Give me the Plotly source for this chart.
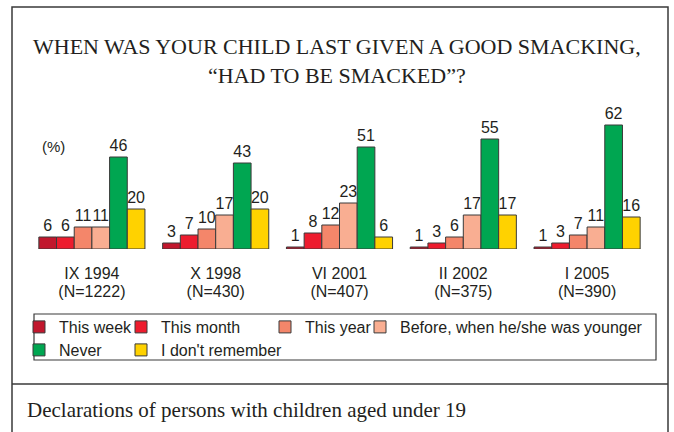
import plotly.graph_objects as go

# Survey waves and sample sizes
periods = ["IX 1994", "X 1998", "VI 2001", "II 2002", "I 2005"]
sample_sizes = ["(N=1222)", "(N=430)", "(N=407)", "(N=375)", "(N=390)"]

# Answer categories (percent of respondents)
series_names = [
    "This week",
    "This month",
    "This year",
    "Before, when he/she was younger",
    "Never",
    "I don't remember",
]
series_colors = ["#C1172D", "#ED1C2E", "#F4866A", "#F9AE92", "#00A651", "#FFD200"]

this_week = [6, 3, 1, 1, 1]
this_month = [6, 7, 8, 3, 3]
this_year = [11, 10, 12, 6, 7]
before_younger = [11, 17, 23, 17, 11]
never = [46, 43, 51, 55, 62]
dont_remember = [20, 20, 6, 17, 16]

series_values = [this_week, this_month, this_year, before_younger, never, dont_remember]

# Figure geometry (pixels)
W, H = 674, 432
ML, MR, MT, MB = 30, 25, 109, 183
PW, PH = W - ML - MR, H - MT - MB


def fx(px):
    return (px - ML) / PW


def fy(py):
    return (H - MB - py) / PH


TEXT = "#231F20"
SANS = "Liberation Sans, Arial, sans-serif"
SERIF = "Liberation Serif, Times New Roman, serif"
EDGE = "#3A3A3A"

# one legend per entry so each key sits in its own column of the key box
legend_ids = ["legend", "legend2", "legend3", "legend4", "legend5", "legend6"]
legend_spots = [(19, 327), (121, 327), (265, 327), (360, 327), (19, 350), (121, 350)]

fig = go.Figure()
for name, color, vals, lg in zip(series_names, series_colors, series_values, legend_ids):
    fig.add_trace(
        go.Bar(
            x=periods,
            y=vals,
            name=name,
            marker=dict(color=color, line=dict(color=EDGE, width=1)),
            text=[str(v) for v in vals],
            textposition="outside",
            textfont=dict(family=SANS, size=16, color=TEXT),
            constraintext="none",
            cliponaxis=False,
            legend=lg,
        )
    )

# sample sizes carried on a second category axis, giving the second label row
fig.add_trace(
    go.Scatter(
        x=sample_sizes,
        y=[0] * len(sample_sizes),
        mode="none",
        xaxis="x2",
        yaxis="y",
        showlegend=False,
        hoverinfo="skip",
    )
)

legend_layout = {}
for lg, (lx, ly) in zip(legend_ids, legend_spots):
    legend_layout[lg] = dict(
        x=fx(lx),
        y=fy(ly),
        xanchor="left",
        yanchor="middle",
        orientation="h",
        font=dict(family=SANS, size=16, color=TEXT),
        bgcolor="rgba(0,0,0,0)",
        borderwidth=0,
    )

fig.update_layout(
    width=W,
    height=H,
    margin=dict(l=ML, r=MR, t=MT, b=MB, autoexpand=False),
    paper_bgcolor="white",
    plot_bgcolor="white",
    barmode="group",
    bargap=0.143,
    bargroupgap=0,
    showlegend=True,
    xaxis=dict(
        range=[-0.5, 4.5],
        showgrid=False,
        zeroline=False,
        showline=False,
        ticks="",
        ticklabelstandoff=13,
        tickfont=dict(family=SANS, size=16, color=TEXT),
    ),
    xaxis2=dict(
        overlaying="x",
        anchor="y",
        side="bottom",
        type="category",
        range=[-0.5, 4.5],
        showgrid=False,
        zeroline=False,
        showline=False,
        ticks="",
        ticklabelstandoff=31,
        tickfont=dict(family=SANS, size=16, color=TEXT),
    ),
    yaxis=dict(
        range=[0, 70],
        visible=False,
        showgrid=False,
        zeroline=False,
    ),
    **legend_layout,
)

# Frame, separator above the note, key box
fig.add_shape(type="rect", xref="paper", yref="paper",
              x0=fx(12), x1=fx(668), y0=fy(450), y1=fy(7),
              line=dict(color=EDGE, width=1.5), fillcolor="rgba(0,0,0,0)", layer="below")
fig.add_shape(type="line", xref="paper", yref="paper",
              x0=fx(12), x1=fx(668), y0=fy(384), y1=fy(384),
              line=dict(color=EDGE, width=1.5))
fig.add_shape(type="rect", xref="paper", yref="paper",
              x0=fx(34), x1=fx(656), y0=fy(360), y1=fy(314),
              line=dict(color=EDGE, width=1.2), fillcolor="rgba(0,0,0,0)")

fig.add_annotation(
    text="WHEN WAS YOUR CHILD LAST GIVEN A GOOD SMACKING,<br>\u201cHAD TO BE SMACKED\u201d?",
    xref="paper", yref="paper", x=fx(337), y=fy(61),
    xanchor="center", yanchor="middle", showarrow=False,
    font=dict(family=SERIF, size=22, color=TEXT),
)
fig.add_annotation(
    text="(%)", xref="paper", yref="paper", x=fx(40), y=fy(146),
    xanchor="left", yanchor="middle", showarrow=False,
    font=dict(family=SANS, size=15, color=TEXT),
)
fig.add_annotation(
    text="Declarations of persons with children aged under 19",
    xref="paper", yref="paper", x=fx(25), y=fy(410),
    xanchor="left", yanchor="middle", showarrow=False,
    font=dict(family=SERIF, size=21, color=TEXT),
)

fig.write_html("out.html")
